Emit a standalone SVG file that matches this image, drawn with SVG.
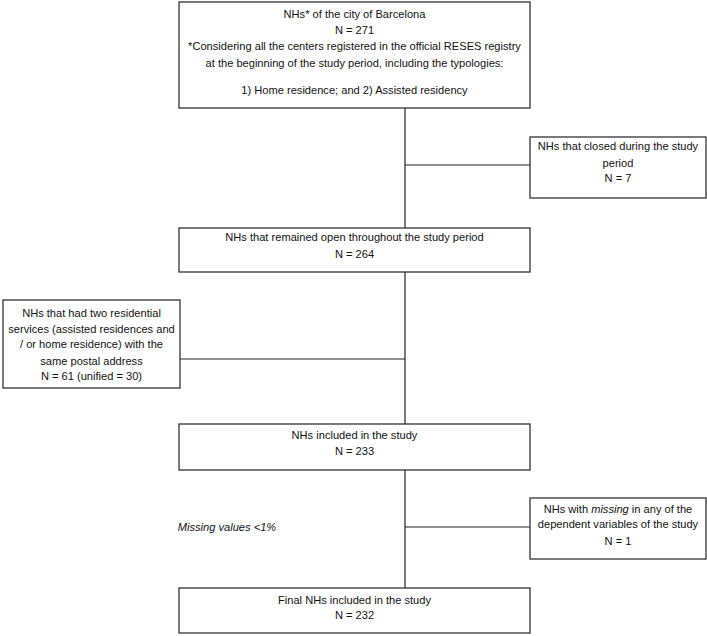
<svg xmlns="http://www.w3.org/2000/svg" width="707" height="636" viewBox="0 0 707 636">
<style>
.box{fill:#fff;stroke:#333;stroke-width:1.3}
.ln{stroke:#222;stroke-width:1.2;fill:none}
text{font-family:"Liberation Sans",Arial,sans-serif;font-size:11.1px;fill:#111;text-anchor:middle}
.it{font-style:italic}
</style>
<rect width="707" height="636" fill="#fff"/>
<g id="connectors">
<line class="ln" x1="405" y1="108" x2="405" y2="228"/>
<line class="ln" x1="405" y1="165" x2="530" y2="165"/>
<line class="ln" x1="405" y1="272" x2="405" y2="424"/>
<line class="ln" x1="180" y1="359" x2="405" y2="359"/>
<line class="ln" x1="405" y1="470" x2="405" y2="588"/>
<line class="ln" x1="405" y1="527" x2="530" y2="527"/>
</g>
<g id="n1">
<rect class="box" x="179" y="2" width="351" height="106"/>
<text x="354.5" y="18">NHs* of the city of Barcelona</text>
<text x="354.5" y="34">N = 271</text>
<text x="354.5" y="50">*Considering all the centers registered in the official RESES registry</text>
<text x="354.5" y="66.5">at the beginning of the study period, including the typologies:</text>
<text x="354.5" y="93.5">1) Home residence; and 2) Assisted residency</text>
</g>
<g id="n2">
<rect class="box" x="530" y="137" width="176" height="61"/>
<text x="618" y="149.5">NHs that closed during the study</text>
<text x="618" y="167">period</text>
<text x="618" y="182">N = 7</text>
</g>
<g id="n3">
<rect class="box" x="179" y="228" width="351" height="44"/>
<text x="354.5" y="241">NHs that remained open throughout the study period</text>
<text x="354.5" y="257.5">N = 264</text>
</g>
<g id="n4">
<rect class="box" x="3" y="300" width="177" height="88"/>
<text x="91.5" y="317">NHs that had two residential</text>
<text x="91.5" y="332.5">services (assisted residences and</text>
<text x="91.5" y="348">/ or home residence) with the</text>
<text x="91.5" y="364.5">same postal address</text>
<text x="91.5" y="380">N = 61 (unified = 30)</text>
</g>
<g id="n5">
<rect class="box" x="179" y="424" width="351" height="46"/>
<text x="354.5" y="438.5">NHs included in the study</text>
<text x="354.5" y="454.5">N = 233</text>
</g>
<g id="n6">
<rect class="box" x="530" y="498" width="176" height="61"/>
<text x="618" y="512.5">NHs with <tspan class="it">missing</tspan> in any of the</text>
<text x="618" y="528">dependent variables of the study</text>
<text x="618" y="544.5">N = 1</text>
</g>
<text class="it" x="227" y="531">Missing values &lt;1%</text>
<g id="n7">
<rect class="box" x="179" y="588" width="351" height="45"/>
<text x="354.5" y="603.5">Final NHs included in the study</text>
<text x="354.5" y="619">N = 232</text>
</g>
</svg>
